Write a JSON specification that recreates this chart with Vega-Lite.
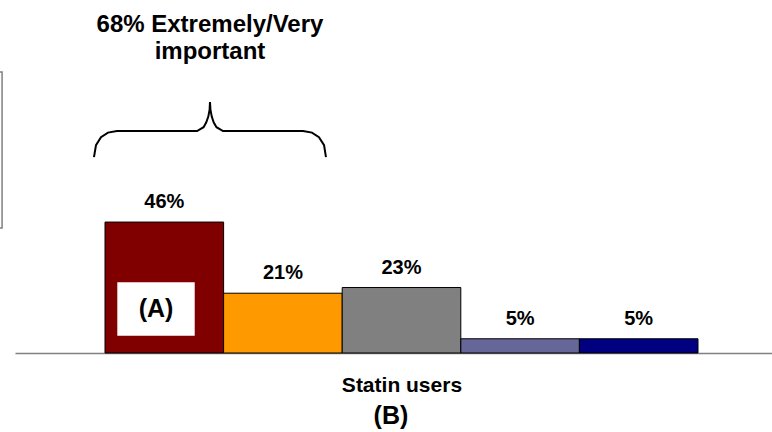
{
  "$schema": "https://vega.github.io/schema/vega-lite/v6.json",
  "autosize": "none",
  "width": 757,
  "height": 353,
  "padding": {"left": 15, "top": 0, "right": 0, "bottom": 79},
  "background": "white",
  "config": {"view": {"stroke": null}, "text": {"font": "Liberation Sans", "fontWeight": "bold", "color": "black"}},
  "datasets": {
    "bars": [
      {"cat": "Extremely important", "pos": 1, "pct": 0.46},
      {"cat": "Very important", "pos": 2, "pct": 0.21},
      {"cat": "Somewhat important", "pos": 3, "pct": 0.23},
      {"cat": "Not very important", "pos": 4, "pct": 0.05},
      {"cat": "Not at all important", "pos": 5, "pct": 0.05}
    ],
    "brace": [
      {"k": 1, "x": 0.407, "y": 0.6882},
      {"k": 2, "x": 0.424, "y": 0.7303},
      {"k": 3, "x": 0.466, "y": 0.7584},
      {"k": 4, "x": 0.525, "y": 0.7742},
      {"k": 5, "x": 0.601, "y": 0.7795},
      {"k": 6, "x": 1.276, "y": 0.7795},
      {"k": 7, "x": 1.331, "y": 0.7932},
      {"k": 8, "x": 1.353, "y": 0.8093},
      {"k": 9, "x": 1.371, "y": 0.8304},
      {"k": 10, "x": 1.382, "y": 0.855},
      {"k": 11, "x": 1.385, "y": 0.8813},
      {"k": 12, "x": 1.389, "y": 0.855},
      {"k": 13, "x": 1.4, "y": 0.8304},
      {"k": 14, "x": 1.417, "y": 0.8093},
      {"k": 15, "x": 1.44, "y": 0.7932},
      {"k": 16, "x": 1.495, "y": 0.7795},
      {"k": 17, "x": 2.17, "y": 0.7795},
      {"k": 18, "x": 2.245, "y": 0.7742},
      {"k": 19, "x": 2.304, "y": 0.7584},
      {"k": 20, "x": 2.347, "y": 0.7303},
      {"k": 21, "x": 2.363, "y": 0.6882}
    ],
    "boxes": [
      {"name": "A", "fill": "white", "stroke": "white", "x": 0.61, "x2": 1.25, "y": 0.063, "y2": 0.246},
      {"name": "legend", "fill": "transparent", "stroke": "#808080", "x": -1.0, "x2": -0.368, "y": 0.439, "y2": 0.987}
    ],
    "notes": [
      {"kind": "title", "label": "68% Extremely/Very", "x": 1.385, "y": 1.152},
      {"kind": "title", "label": "important", "x": 1.385, "y": 1.057},
      {"kind": "axis", "label": "Statin users", "x": 3.004, "y": -0.116},
      {"kind": "big", "label": "(B)", "x": 2.911, "y": -0.221},
      {"kind": "big", "label": "(A)", "x": 0.93, "y": 0.154}
    ]
  },
  "layer": [
    {
      "data": {"name": "bars"},
      "mark": {"type": "bar", "width": 118.6, "stroke": "black", "strokeWidth": 1},
      "encoding": {
        "x": {"field": "pos", "type": "quantitative",
              "scale": {"domain": [-0.259, 6.124], "nice": false, "zero": false, "padding": 0},
              "axis": {"domain": true, "domainColor": "#808080", "domainWidth": 1.5, "ticks": false, "labels": false, "grid": false, "title": null}},
        "y": {"field": "pct", "type": "quantitative", "scale": {"domain": [0, 1.24], "nice": false, "padding": 0}, "axis": null},
        "color": {"field": "cat", "type": "nominal", "legend": null, "sort": null,
          "scale": {"domain": ["Extremely important", "Very important", "Somewhat important", "Not very important", "Not at all important"],
                    "range": ["#800000", "#FF9900", "#808080", "#666699", "#000080"]}}
      }
    },
    {
      "data": {"name": "boxes"},
      "mark": {"type": "rect", "strokeWidth": 1.5},
      "encoding": {
        "x": {"field": "x", "type": "quantitative"},
        "x2": {"field": "x2"},
        "y": {"field": "y", "type": "quantitative"},
        "y2": {"field": "y2"},
        "fill": {"field": "fill", "type": "nominal", "scale": null},
        "stroke": {"field": "stroke", "type": "nominal", "scale": null}
      }
    },
    {
      "data": {"name": "bars"},
      "mark": {"type": "text", "fontSize": 20, "baseline": "middle", "align": "center", "dy": -20},
      "encoding": {
        "x": {"field": "pos", "type": "quantitative"},
        "y": {"field": "pct", "type": "quantitative"},
        "text": {"field": "pct", "type": "quantitative", "format": ".0%"}
      }
    },
    {
      "data": {"name": "brace"},
      "mark": {"type": "line", "color": "black", "strokeWidth": 2},
      "encoding": {
        "x": {"field": "x", "type": "quantitative"},
        "y": {"field": "y", "type": "quantitative"},
        "order": {"field": "k", "type": "quantitative"}
      }
    },
    {
      "data": {"name": "notes"},
      "transform": [{"filter": "datum.kind === 'title'"}],
      "mark": {"type": "text", "fontSize": 24, "baseline": "middle", "align": "center"},
      "encoding": {
        "x": {"field": "x", "type": "quantitative"},
        "y": {"field": "y", "type": "quantitative"},
        "text": {"field": "label", "type": "nominal"}
      }
    },
    {
      "data": {"name": "notes"},
      "transform": [{"filter": "datum.kind === 'axis'"}],
      "mark": {"type": "text", "fontSize": 21, "baseline": "middle", "align": "center"},
      "encoding": {
        "x": {"field": "x", "type": "quantitative"},
        "y": {"field": "y", "type": "quantitative"},
        "text": {"field": "label", "type": "nominal"}
      }
    },
    {
      "data": {"name": "notes"},
      "transform": [{"filter": "datum.kind === 'big'"}],
      "mark": {"type": "text", "fontSize": 25, "baseline": "middle", "align": "center"},
      "encoding": {
        "x": {"field": "x", "type": "quantitative"},
        "y": {"field": "y", "type": "quantitative"},
        "text": {"field": "label", "type": "nominal"}
      }
    }
  ]
}
